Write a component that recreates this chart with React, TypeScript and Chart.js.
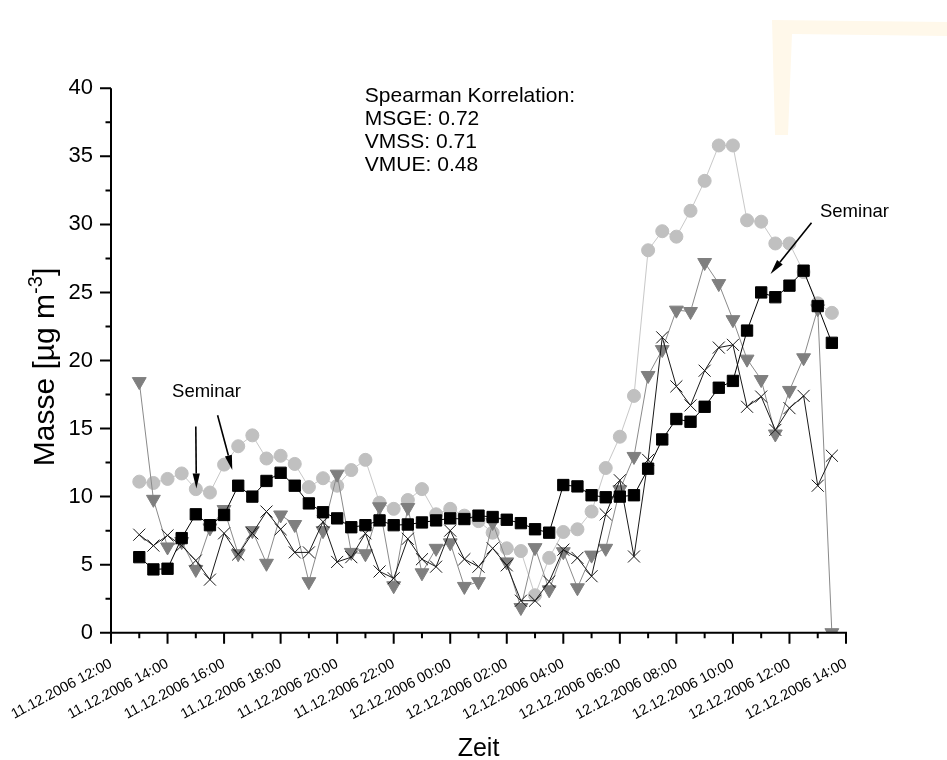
import React, { useEffect, useRef } from "react";
import { Chart, registerables } from "chart.js";

Chart.register(...registerables);

const FONT = "'Liberation Sans', Arial, Helvetica, sans-serif";

// sampling times (30 min)
const sampleTimes = [
  "11.12.2006 13:00", "11.12.2006 13:30", "11.12.2006 14:00", "11.12.2006 14:30",
  "11.12.2006 15:00", "11.12.2006 15:30", "11.12.2006 16:00", "11.12.2006 16:30",
  "11.12.2006 17:00", "11.12.2006 17:30", "11.12.2006 18:00", "11.12.2006 18:30",
  "11.12.2006 19:00", "11.12.2006 19:30", "11.12.2006 20:00", "11.12.2006 20:30",
  "11.12.2006 21:00", "11.12.2006 21:30", "11.12.2006 22:00", "11.12.2006 22:30",
  "11.12.2006 23:00", "11.12.2006 23:30", "12.12.2006 00:00", "12.12.2006 00:30",
  "12.12.2006 01:00", "12.12.2006 01:30", "12.12.2006 02:00", "12.12.2006 02:30",
  "12.12.2006 03:00", "12.12.2006 03:30", "12.12.2006 04:00", "12.12.2006 04:30",
  "12.12.2006 05:00", "12.12.2006 05:30", "12.12.2006 06:00", "12.12.2006 06:30",
  "12.12.2006 07:00", "12.12.2006 07:30", "12.12.2006 08:00", "12.12.2006 08:30",
  "12.12.2006 09:00", "12.12.2006 09:30", "12.12.2006 10:00", "12.12.2006 10:30",
  "12.12.2006 11:00", "12.12.2006 11:30", "12.12.2006 12:00", "12.12.2006 12:30",
  "12.12.2006 13:00", "12.12.2006 13:30",
];

const xTickLabels = [
  "11.12.2006 12:00", "11.12.2006 14:00", "11.12.2006 16:00", "11.12.2006 18:00",
  "11.12.2006 20:00", "11.12.2006 22:00", "12.12.2006 00:00", "12.12.2006 02:00",
  "12.12.2006 04:00", "12.12.2006 06:00", "12.12.2006 08:00", "12.12.2006 10:00",
  "12.12.2006 12:00", "12.12.2006 14:00",
];

// black squares
const squareValues = [
  5.55, 4.65, 4.7, 6.95, 8.7, 7.9, 8.65, 10.8, 10.0, 11.15,
  11.75, 10.8, 9.5, 8.85, 8.4, 7.75, 7.9, 8.25, 7.9, 7.95,
  8.1, 8.25, 8.4, 8.35, 8.6, 8.5, 8.3, 8.05, 7.6, 7.35,
  10.85, 10.75, 10.1, 9.95, 10.0, 10.1, 12.05, 14.2, 15.7, 15.5,
  16.6, 18.0, 18.5, 22.2, 25.0, 24.65, 25.5, 26.6, 24.0, 21.3,
];

// light grey circles
const circleValues = [
  11.1, 11.0, 11.3, 11.7, 10.55, 10.3, 12.35, 13.7, 14.5, 12.8,
  13.0, 12.4, 10.7, 11.35, 10.8, 11.95, 12.7, 9.55, 9.1, 9.75,
  10.55, 8.7, 9.1, 8.6, 8.2, 7.35, 6.2, 6.0, 2.75, 5.5,
  7.4, 7.6, 8.9, 12.1, 14.4, 17.4, 28.1, 29.5, 29.1, 31.0,
  33.2, 35.8, 35.8, 30.3, 30.2, 28.6, 28.6, 26.5, 24.2, 23.5,
];

// dark grey down-triangles
const triangleValues = [
  18.45, 9.8, 6.3, 6.7, 4.65, 7.7, 9.05, 5.8, 7.5, 5.1,
  8.65, 7.95, 3.75, 7.5, 11.65, 5.9, 5.8, 9.25, 3.45, 9.2,
  4.4, 6.2, 6.6, 3.4, 3.75, 8.1, 5.2, 1.85, 6.25, 3.15,
  5.95, 3.3, 5.7, 6.2, 10.5, 12.95, 18.9, 20.8, 23.7, 23.6,
  27.2, 25.65, 23.0, 20.1, 18.6, 14.6, 17.8, 20.2, 23.8, 0.0,
];

// black crosses
const crossValues = [
  7.2, 6.4, 7.15, 6.4, 5.3, 3.9, 7.3, 5.75, 7.3, 8.9,
  7.6, 5.9, 5.9, 8.15, 5.2, 5.55, 7.3, 4.5, 4.0, 6.9,
  5.4, 4.85, 7.5, 5.4, 4.85, 6.2, 4.95, 2.35, 2.35, 3.75,
  6.1, 5.5, 4.15, 8.7, 11.2, 5.6, 12.7, 21.7, 18.1, 16.7,
  19.25, 20.95, 21.15, 16.6, 17.35, 14.9, 16.5, 17.4, 10.8, 13.0,
];

const correlationLines = [
  "Spearman Korrelation:",
  "MSGE: 0.72",
  "VMSS: 0.71",
  "VMUE: 0.48",
];

// hours since 11.12.2006 12:00
function toHours(s: string): number {
  const [d, t] = s.split(" ");
  const day = parseInt(d.slice(0, 2), 10);
  const [h, m] = t.split(":").map(Number);
  return (day - 11) * 24 + h + m / 60 - 12;
}

function toPoints(vals: number[]) {
  return vals.map((v, i) => ({ x: toHours(sampleTimes[i]), y: v }));
}

function drawArrow(ctx: CanvasRenderingContext2D, x1: number, y1: number, x2: number, y2: number) {
  const ang = Math.atan2(y2 - y1, x2 - x1);
  const hl = 15;
  const hw = 3.6;
  const bx = x2 - hl * Math.cos(ang);
  const by = y2 - hl * Math.sin(ang);
  ctx.beginPath();
  ctx.moveTo(x1, y1);
  ctx.lineTo(bx, by);
  ctx.lineWidth = 1.6;
  ctx.strokeStyle = "#000";
  ctx.stroke();
  ctx.beginPath();
  ctx.moveTo(x2, y2);
  ctx.lineTo(bx + hw * Math.sin(ang), by - hw * Math.cos(ang));
  ctx.lineTo(bx - hw * Math.sin(ang), by + hw * Math.cos(ang));
  ctx.closePath();
  ctx.fillStyle = "#000";
  ctx.fill();
}

const decorPlugin = {
  id: "decor",
  beforeDraw(chart: any) {
    const ctx: CanvasRenderingContext2D = chart.ctx;
    ctx.save();
    ctx.fillStyle = "#ffffff";
    ctx.fillRect(0, 0, chart.width, chart.height);
    // faint scan highlight in the top-right corner
    ctx.fillStyle = "#fff8ea";
    ctx.beginPath();
    ctx.moveTo(772, 20);
    ctx.lineTo(947, 22);
    ctx.lineTo(947, 36);
    ctx.lineTo(792, 34);
    ctx.lineTo(788, 135);
    ctx.lineTo(775, 135);
    ctx.closePath();
    ctx.fill();
    ctx.restore();
  },
  afterDraw(chart: any) {
    const ctx: CanvasRenderingContext2D = chart.ctx;
    const xs = chart.scales.x;
    const ys = chart.scales.y;
    const { left, right, top, bottom } = chart.chartArea;
    ctx.save();
    ctx.strokeStyle = "#000";
    ctx.lineWidth = 2;
    ctx.lineCap = "butt";
    // axis lines
    ctx.beginPath();
    ctx.moveTo(left, top);
    ctx.lineTo(left, bottom + 1);
    ctx.moveTo(left - 1, bottom);
    ctx.lineTo(right + 1, bottom);
    ctx.stroke();
    // y ticks: major every 5, minor every 2.5
    ctx.beginPath();
    for (let v = 0; v <= 40.001; v += 2.5) {
      const y = ys.getPixelForValue(v);
      const major = Math.abs(v / 5 - Math.round(v / 5)) < 1e-6;
      ctx.moveTo(left, y);
      ctx.lineTo(left - (major ? 11 : 5.5), y);
    }
    // x ticks: major every 2 h, minor every hour
    for (let h = 0; h <= 26; h += 1) {
      const x = xs.getPixelForValue(h);
      const major = h % 2 === 0;
      ctx.moveTo(x, bottom);
      ctx.lineTo(x, bottom + (major ? 11 : 5.5));
    }
    ctx.stroke();

    // correlation text
    ctx.fillStyle = "#000";
    ctx.font = `21px ${FONT}`;
    ctx.textAlign = "left";
    ctx.textBaseline = "alphabetic";
    const tx = xs.getPixelForValue(8.98);
    const baseVals = [38.96, 37.27, 35.62, 33.96];
    correlationLines.forEach((line, i) => {
      ctx.fillText(line, tx, ys.getPixelForValue(baseVals[i]));
    });

    // Seminar annotations
    ctx.font = `18.5px ${FONT}`;
    ctx.fillText("Seminar", xs.getPixelForValue(2.16), ys.getPixelForValue(17.34));
    ctx.fillText("Seminar", xs.getPixelForValue(25.08), ys.getPixelForValue(30.56));
    drawArrow(ctx, xs.getPixelForValue(3.0), ys.getPixelForValue(15.15), xs.getPixelForValue(3.02), ys.getPixelForValue(10.6));
    drawArrow(ctx, xs.getPixelForValue(3.77), ys.getPixelForValue(15.98), xs.getPixelForValue(4.29), ys.getPixelForValue(11.95));
    drawArrow(ctx, xs.getPixelForValue(24.78), ys.getPixelForValue(30.12), xs.getPixelForValue(23.33), ys.getPixelForValue(26.36));

    // y axis title with superscript
    const cx = 45;
    const cy = 367;
    ctx.translate(cx, cy);
    ctx.rotate(-Math.PI / 2);
    const mainFont = `30px ${FONT}`;
    const supFont = `20px ${FONT}`;
    ctx.font = mainFont;
    const t1 = "Masse [µg m";
    const t3 = "]";
    const w1 = ctx.measureText(t1).width;
    const w3 = ctx.measureText(t3).width;
    ctx.font = supFont;
    const t2 = "-3";
    const w2 = ctx.measureText(t2).width;
    let x0 = -(w1 + w2 + w3) / 2;
    const base = 9;
    ctx.font = mainFont;
    ctx.fillText(t1, x0, base);
    x0 += w1;
    ctx.font = supFont;
    ctx.fillText(t2, x0, base - 12);
    x0 += w2;
    ctx.font = mainFont;
    ctx.fillText(t3, x0, base);
    ctx.restore();
  },
};

export default function App() {
  const canvasRef = useRef<HTMLCanvasElement | null>(null);

  useEffect(() => {
    const canvas = canvasRef.current;
    if (!canvas) return;
    const chart = new Chart(canvas, {
      type: "scatter",
      data: {
        datasets: [
          {
            label: "Referenz",
            data: toPoints(squareValues),
            showLine: true,
            borderColor: "#000000",
            backgroundColor: "#000000",
            borderWidth: 1,
            pointStyle: "rect",
            pointRadius: 8,
            pointBorderWidth: 1,
            pointBorderColor: "#000000",
            pointBackgroundColor: "#000000",
            order: 0,
          },
          {
            label: "VMUE",
            data: toPoints(crossValues),
            showLine: true,
            borderColor: "#1a1a1a",
            backgroundColor: "#1a1a1a",
            borderWidth: 1,
            pointStyle: "crossRot",
            pointRadius: 8.5,
            pointBorderWidth: 1,
            pointBorderColor: "#1a1a1a",
            order: 1,
          },
          {
            label: "VMSS",
            data: toPoints(triangleValues),
            showLine: true,
            borderColor: "#8a8a8a",
            backgroundColor: "#7f7f7f",
            borderWidth: 1,
            pointStyle: "triangle",
            pointRotation: 180,
            pointRadius: 8,
            pointBorderWidth: 1,
            pointBorderColor: "#7f7f7f",
            pointBackgroundColor: "#7f7f7f",
            order: 2,
          },
          {
            label: "MSGE",
            data: toPoints(circleValues),
            showLine: true,
            borderColor: "#c8c8c8",
            backgroundColor: "#c0c0c0",
            borderWidth: 1,
            pointStyle: "circle",
            pointRadius: 6.5,
            pointBorderWidth: 1,
            pointBorderColor: "#c0c0c0",
            pointBackgroundColor: "#c0c0c0",
            order: 3,
          },
        ],
      },
      options: {
        responsive: false,
        animation: false,
        events: [],
        layout: { padding: { left: 0, right: 101, top: 88.3, bottom: 0 } },
        elements: { line: { tension: 0 } },
        plugins: {
          legend: { display: false },
          tooltip: { enabled: false },
          title: { display: false },
        },
        scales: {
          x: {
            type: "linear",
            min: 0,
            max: 26,
            grid: { display: false, drawTicks: false },
            border: { display: false },
            ticks: {
              stepSize: 2,
              autoSkip: false,
              maxRotation: 28,
              minRotation: 28,
              padding: 22.5,
              color: "#000",
              font: { family: FONT, size: 14.5 },
              callback: (v: any) => xTickLabels[Math.round(Number(v) / 2)] ?? "",
            },
            title: {
              display: true,
              text: "Zeit",
              color: "#000",
              font: { family: FONT, size: 25, lineHeight: 0.85 },
              padding: { top: 0, bottom: 0 },
            },
            afterFit: (s: any) => {
              s.height = 760 - 632.7;
              s.paddingLeft = 0;
              s.paddingRight = 0;
            },
          },
          y: {
            type: "linear",
            min: 0,
            max: 40,
            grid: { display: false, drawTicks: false },
            border: { display: false },
            ticks: {
              stepSize: 5,
              padding: 18,
              color: "#000",
              font: { family: FONT, size: 22 },
            },
            afterFit: (s: any) => {
              s.width = 111;
              s.paddingTop = 0;
              s.paddingBottom = 0;
            },
          },
        },
      },
      plugins: [decorPlugin],
    } as any);
    return () => chart.destroy();
  }, []);

  return (
    <div style={{ position: "fixed", left: 0, top: 0, width: 947, height: 760, background: "#fff" }}>
      <canvas ref={canvasRef} width={947} height={760} style={{ display: "block" }} />
    </div>
  );
}
